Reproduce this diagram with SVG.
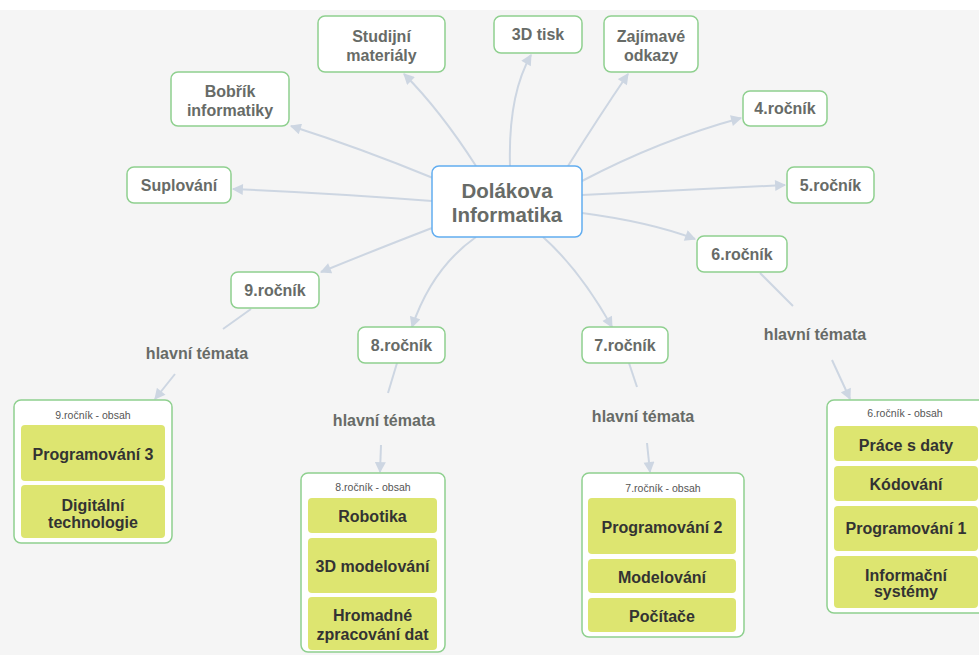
<svg xmlns="http://www.w3.org/2000/svg" width="979" height="655" viewBox="0 0 979 655">
<style>
.node rect{fill:#ffffff;stroke:#8fd08f;stroke-width:1.5}
.node text{font-family:"Liberation Sans",Arial,sans-serif;font-weight:bold;font-size:16px;fill:#676b67;text-anchor:middle}
.root rect{fill:#ffffff;stroke:#62adf0;stroke-width:1.5}
.root text{font-family:"Liberation Sans",Arial,sans-serif;font-weight:bold;font-size:20.5px;fill:#676b67;text-anchor:middle}
.lbl text{font-family:"Liberation Sans",Arial,sans-serif;font-weight:bold;font-size:16px;fill:#676b67;text-anchor:middle}
.box > rect{fill:#ffffff;stroke:#8fd08f;stroke-width:1.5}
.box .title{font-family:"Liberation Sans",Arial,sans-serif;font-size:10.5px;fill:#555555;text-anchor:middle}
.item rect{fill:#dde570;stroke:none}
.item text{font-family:"Liberation Sans",Arial,sans-serif;font-weight:bold;font-size:16px;fill:#333333;text-anchor:middle}
.conn path{fill:none;stroke:#cdd6e2;stroke-width:2}
</style>
<defs>
<marker id="arr" viewBox="0 0 10 10" refX="9" refY="5" markerWidth="12" markerHeight="11" orient="auto" markerUnits="userSpaceOnUse">
<path d="M0,0 L10,5 L0,10 z" fill="#cdd6e2"/>
</marker>
</defs>
<rect x="0" y="0" width="979" height="655" fill="#ffffff"/>
<rect x="0" y="10" width="979" height="645" fill="#f5f5f5"/>

<g id="connectors" class="conn">
<path d="M432,201 Q330,193 233,189" marker-end="url(#arr)"/>
<path d="M433,178 Q360,148 291,126" marker-end="url(#arr)"/>
<path d="M476,166 Q440,110 404,74" marker-end="url(#arr)"/>
<path d="M510,166 Q508,95 531,55" marker-end="url(#arr)"/>
<path d="M568,166 Q600,115 628,74" marker-end="url(#arr)"/>
<path d="M582,181 Q660,140 741,118" marker-end="url(#arr)"/>
<path d="M582,195 L785,185" marker-end="url(#arr)"/>
<path d="M582,213 Q650,222 695,239" marker-end="url(#arr)"/>
<path d="M432,228 Q380,248 321,272" marker-end="url(#arr)"/>
<path d="M476,237 Q432,268 412,327" marker-end="url(#arr)"/>
<path d="M543,237 Q580,270 612,327" marker-end="url(#arr)"/>
<path d="M251,309 L223,329"/>
<path d="M175,374 L155,399" marker-end="url(#arr)"/>
<path d="M397,363 L388,393"/>
<path d="M381,445 L380,472" marker-end="url(#arr)"/>
<path d="M629,363 L637,387"/>
<path d="M647,443 L650,472" marker-end="url(#arr)"/>
<path d="M760,273 L793,306"/>
<path d="M832,360 L850,399" marker-end="url(#arr)"/>
</g>

<g id="root" class="root">
<rect x="432" y="166" width="150" height="71" rx="7"/>
<text x="507" y="198">Dolákova</text>
<text x="507" y="221.5">Informatika</text>
</g>

<g id="studijni" class="node"><rect x="318" y="16" width="127" height="56" rx="7"/><text x="381.5" y="42">Studijní</text><text x="381.5" y="61">materiály</text></g>
<g id="tisk" class="node"><rect x="494" y="16" width="88" height="37" rx="7"/><text x="538" y="40">3D tisk</text></g>
<g id="odkazy" class="node"><rect x="604" y="16" width="94" height="56" rx="7"/><text x="651" y="42">Zajímavé</text><text x="651" y="61">odkazy</text></g>
<g id="bobrik" class="node"><rect x="171" y="72" width="118" height="54" rx="7"/><text x="230" y="97">Bobřík</text><text x="230" y="115.5">informatiky</text></g>
<g id="suplovani" class="node"><rect x="127" y="167" width="104" height="36" rx="7"/><text x="179" y="191">Suplování</text></g>
<g id="r4" class="node"><rect x="743" y="91" width="84" height="35" rx="7"/><text x="785" y="114">4.ročník</text></g>
<g id="r5" class="node"><rect x="787" y="167" width="87" height="36" rx="7"/><text x="830.5" y="191">5.ročník</text></g>
<g id="r6" class="node"><rect x="697" y="236" width="90" height="36" rx="7"/><text x="742" y="260">6.ročník</text></g>
<g id="r9" class="node"><rect x="231" y="272" width="88" height="36" rx="7"/><text x="275" y="296">9.ročník</text></g>
<g id="r8" class="node"><rect x="358" y="327" width="87" height="36" rx="7"/><text x="401.5" y="351">8.ročník</text></g>
<g id="r7" class="node"><rect x="582" y="327" width="86" height="36" rx="7"/><text x="625" y="351">7.ročník</text></g>

<g id="t9" class="lbl"><text x="197" y="358.5">hlavní témata</text></g>
<g id="t8" class="lbl"><text x="384" y="425.5">hlavní témata</text></g>
<g id="t7" class="lbl"><text x="643" y="421.5">hlavní témata</text></g>
<g id="t6" class="lbl"><text x="815" y="339.5">hlavní témata</text></g>

<g id="obsah9" class="box">
<rect x="14" y="400" width="158" height="143" rx="7"/>
<text class="title" x="93" y="418.5">9.ročník - obsah</text>
<g class="item"><rect x="21" y="425" width="144" height="56" rx="4"/><text x="93" y="459.5">Programování 3</text></g>
<g class="item"><rect x="21" y="485" width="144" height="53" rx="4"/><text x="93" y="510.5">Digitální</text><text x="93" y="527.5">technologie</text></g>
</g>

<g id="obsah8" class="box">
<rect x="301" y="473" width="144" height="179" rx="7"/>
<text class="title" x="373" y="490.5">8.ročník - obsah</text>
<g class="item"><rect x="308" y="498" width="129" height="35" rx="4"/><text x="372.5" y="522">Robotika</text></g>
<g class="item"><rect x="308" y="538" width="129" height="55" rx="4"/><text x="372.5" y="572">3D modelování</text></g>
<g class="item"><rect x="308" y="597" width="129" height="53" rx="4"/><text x="372.5" y="621">Hromadné</text><text x="372.5" y="640">zpracování dat</text></g>
</g>

<g id="obsah7" class="box">
<rect x="582" y="473" width="162" height="164" rx="7"/>
<text class="title" x="663" y="491.5">7.ročník - obsah</text>
<g class="item"><rect x="588" y="498" width="148" height="56" rx="4"/><text x="662" y="533">Programování 2</text></g>
<g class="item"><rect x="588" y="559" width="148" height="34" rx="4"/><text x="662" y="583">Modelování</text></g>
<g class="item"><rect x="588" y="598" width="148" height="34" rx="4"/><text x="662" y="621.5">Počítače</text></g>
</g>

<g id="obsah6" class="box">
<rect x="827" y="400" width="160" height="213" rx="7"/>
<text class="title" x="905" y="417">6.ročník - obsah</text>
<g class="item"><rect x="834" y="426" width="144" height="35" rx="4"/><text x="906" y="450.5">Práce s daty</text></g>
<g class="item"><rect x="834" y="466" width="144" height="35" rx="4"/><text x="906" y="490">Kódování</text></g>
<g class="item"><rect x="834" y="506" width="144" height="45" rx="4"/><text x="906" y="534">Programování 1</text></g>
<g class="item"><rect x="834" y="556" width="144" height="52" rx="4"/><text x="906" y="580.5">Informační</text><text x="906" y="597">systémy</text></g>
</g>
</svg>
